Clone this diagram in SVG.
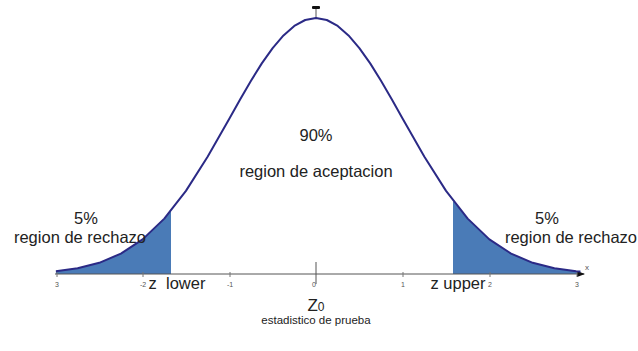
<svg xmlns="http://www.w3.org/2000/svg" width="638" height="351" viewBox="0 0 638 351">
<style>
.lbl{font-family:"Liberation Sans",Arial,sans-serif;fill:#222;text-anchor:middle}
.big{font-size:16.5px}
.tick{font-family:"Liberation Sans",Arial,sans-serif;font-size:7px;fill:#555;text-anchor:middle}
.shade{fill:#4a7bb7;stroke:none}
.curve{fill:none;stroke:#2b2a86;stroke-width:2;stroke-linejoin:round}
.axis{stroke:#555;stroke-width:1;fill:none}
</style>
<defs>
<marker id="arr" markerWidth="8" markerHeight="8" refX="7" refY="4" orient="auto" markerUnits="userSpaceOnUse">
<path d="M0,1 L8,4 L0,7 Z" fill="#111"/>
</marker>
</defs>
<rect width="638" height="351" fill="#fff"/>
<g id="shading">
<polygon class="shade" points="55.9,274 55.9,271.2 77.6,268.2 99.25,262.8 120.9,253.6 142.6,239.4 164.3,218.6 171,210.7 171,274"/>
<polygon class="shade" points="453,274 453,201 467.7,218.6 489.4,239.4 511.1,253.6 532.75,262.8 554.4,268.2 576.1,271.2 580.4,271.6 580.4,274"/>
</g>
<g id="axes">
<line class="axis" x1="55" y1="274" x2="584" y2="274" marker-end="url(#arr)"/>
<line class="axis" x1="316" y1="262" x2="316" y2="284"/>
<line x1="316" y1="9" x2="316" y2="18" stroke="#555" stroke-width="1"/>
<rect x="312" y="6" width="8" height="3" rx="1" fill="#111"/>
<g stroke="#777" stroke-width="1">
<line x1="57" y1="272" x2="57" y2="277"/>
<line x1="143" y1="272" x2="143" y2="277"/>
<line x1="230" y1="272" x2="230" y2="277"/>
<line x1="403" y1="272" x2="403" y2="277"/>
<line x1="490" y1="272" x2="490" y2="277"/>
<line x1="577" y1="272" x2="577" y2="277"/>
</g>
<text class="tick" x="57" y="287">3</text>
<text class="tick" x="143" y="287">-2</text>
<text class="tick" x="230" y="287">-1</text>
<text class="tick" x="314" y="287">0</text>
<text class="tick" x="403" y="287">1</text>
<text class="tick" x="490" y="287">2</text>
<text class="tick" x="577" y="287">3</text>
<text class="tick" x="587" y="270" style="font-size:8px">x</text>
</g>
<g id="curve">
<polyline class="curve" points="55.9,271.2 77.6,268.2 99.25,262.8 120.9,253.6 142.6,239.4 164.3,218.6 185.95,190.9 207.6,156.8 229.3,118.7 240.1,99.4 251,80.8 261.8,63.4 272.65,48.1 283.5,35.4 294.3,25.9 305.2,20.0 316,18 326.8,20.0 337.7,25.9 348.5,35.4 359.35,48.1 370.2,63.4 381,80.8 391.9,99.4 402.7,118.7 424.4,156.8 446.05,190.9 467.7,218.6 489.4,239.4 511.1,253.6 532.75,262.8 554.4,268.2 576.1,271.2 580.4,271.6"/>
</g>
<g id="center-label">
<text class="lbl big" x="316" y="141">90%</text>
<text class="lbl big" x="316" y="177">region de aceptacion</text>
</g>
<g id="left-label">
<text class="lbl big" x="86" y="224">5%</text>
<text class="lbl big" x="80" y="243">region de rechazo</text>
</g>
<g id="right-label">
<text class="lbl big" x="547" y="224">5%</text>
<text class="lbl big" x="571" y="243">region de rechazo</text>
</g>
<g id="z-lower">
<text class="lbl big" x="177" y="289" xml:space="preserve">z  lower</text>
</g>
<g id="z-upper">
<text class="lbl big" x="458" y="289">z upper</text>
</g>
<g id="z0">
<text class="lbl" x="316" y="311" style="font-size:17px">Z<tspan style="font-size:12px">0</tspan></text>
<text class="lbl" x="316" y="324" style="font-size:11.5px">estadistico de prueba</text>
</g>
</svg>
